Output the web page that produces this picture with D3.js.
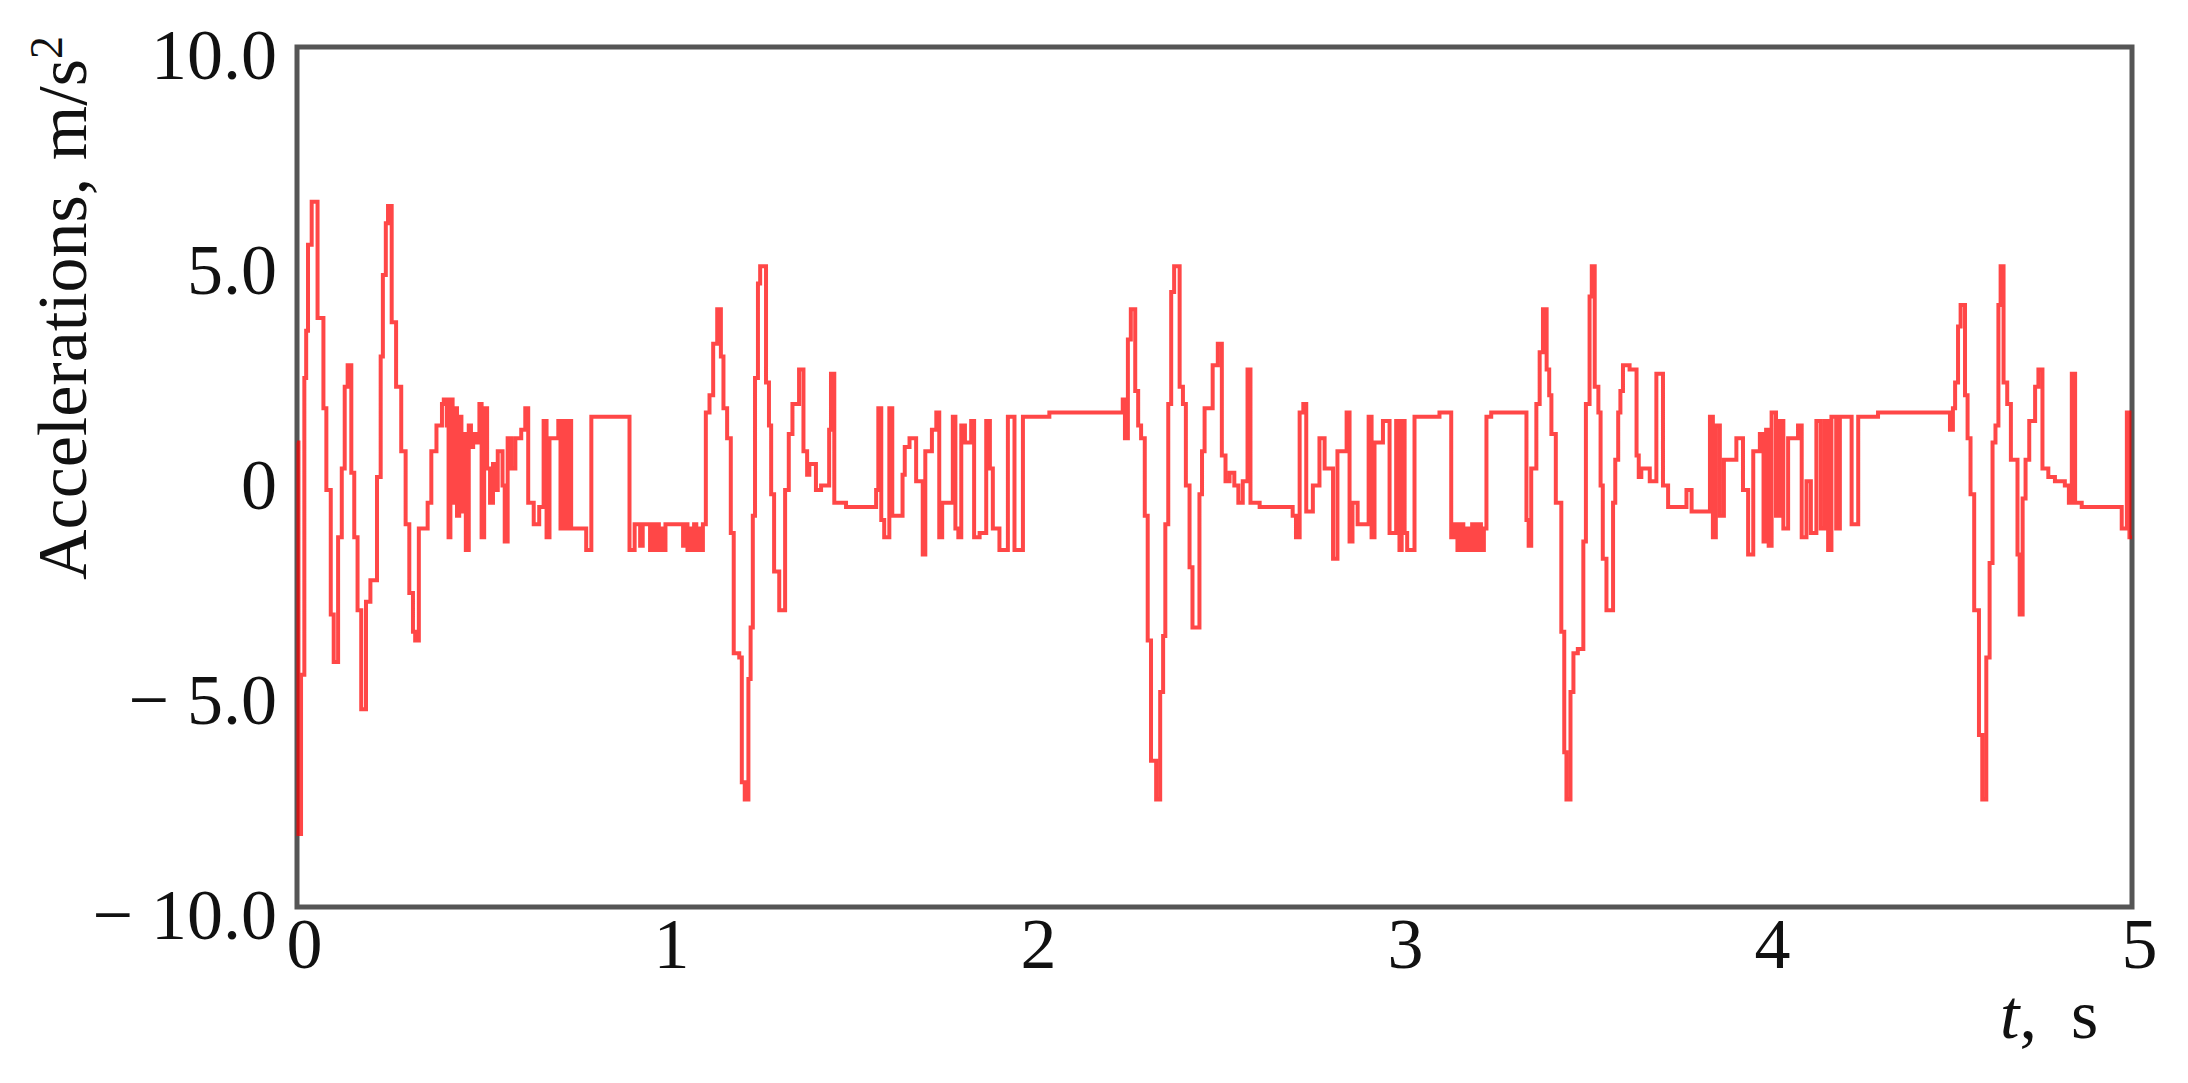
<!DOCTYPE html>
<html><head><meta charset="utf-8">
<script src="https://cdn.jsdelivr.net/npm/d3@7/dist/d3.min.js"></script>
<style>html,body{margin:0;padding:0;background:#fff;}svg{display:block;}</style>
</head><body>
<svg id="chart" width="2188" height="1083"></svg>
<script>
// ---- data ----
const timeS = [
0.000,0.004,0.011,0.020,0.025,0.030,0.040,0.056,0.072,0.080,0.092,0.100,0.112,0.122,0.130,0.138,0.148,0.156,0.165,0.175,
0.188,0.200,0.218,0.228,0.234,0.242,0.248,0.258,0.270,0.284,0.296,0.306,0.316,0.322,0.332,0.356,0.366,0.380,0.395,0.400,
0.408,0.413,0.418,0.424,0.430,0.436,0.442,0.448,0.454,0.460,0.468,0.474,0.480,0.490,0.497,0.503,0.510,0.518,0.526,0.534,
0.540,0.547,0.560,0.566,0.574,0.584,0.595,0.611,0.622,0.630,0.645,0.660,0.672,0.680,0.688,0.712,0.718,0.726,0.733,0.740,
0.747,0.788,0.802,0.906,0.920,0.935,0.942,0.962,0.968,0.974,0.980,0.986,0.992,0.998,1.004,1.052,1.058,1.064,1.070,1.076,
1.082,1.088,1.094,1.100,1.106,1.114,1.124,1.134,1.145,1.155,1.162,1.172,1.182,1.190,1.205,1.212,1.220,1.230,1.236,1.242,
1.248,1.256,1.262,1.278,1.286,1.292,1.300,1.314,1.330,1.340,1.350,1.368,1.380,1.390,1.396,1.414,1.428,1.450,1.455,1.464,
1.496,1.578,1.584,1.592,1.600,1.614,1.622,1.650,1.656,1.669,1.687,1.705,1.712,1.730,1.742,1.750,1.758,1.787,1.794,1.802,
1.810,1.820,1.837,1.845,1.860,1.878,1.888,1.896,1.914,1.937,1.955,1.978,2.050,2.250,2.256,2.264,2.272,2.284,2.292,2.300,
2.310,2.318,2.327,2.341,2.352,2.360,2.366,2.374,2.382,2.390,2.405,2.414,2.422,2.432,2.440,2.459,2.466,2.473,2.495,2.509,
2.520,2.530,2.541,2.554,2.565,2.577,2.590,2.598,2.623,2.713,2.722,2.732,2.742,2.750,2.768,2.786,2.800,2.823,2.835,2.860,
2.868,2.876,2.890,2.920,2.928,2.936,2.959,2.977,2.995,3.004,3.010,3.018,3.025,3.045,3.113,3.145,3.154,3.162,3.170,3.178,
3.186,3.194,3.202,3.210,3.218,3.226,3.234,3.241,3.254,3.350,3.356,3.363,3.377,3.386,3.395,3.405,3.412,3.418,3.430,3.445,
3.453,3.459,3.470,3.478,3.490,3.505,3.512,3.522,3.528,3.536,3.546,3.552,3.558,3.568,3.586,3.592,3.600,3.606,3.613,3.631,
3.650,3.656,3.663,3.686,3.704,3.722,3.736,3.786,3.800,3.850,3.858,3.866,3.877,3.888,3.922,3.940,3.954,3.968,3.986,3.996,
4.003,4.010,4.018,4.030,4.040,4.050,4.063,4.090,4.100,4.113,4.125,4.140,4.152,4.163,4.172,4.181,4.194,4.204,4.236,4.254,
4.308,4.504,4.512,4.518,4.526,4.533,4.545,4.552,4.560,4.570,4.583,4.592,4.603,4.612,4.620,4.628,4.636,4.642,4.650,4.660,
4.670,4.688,4.694,4.702,4.710,4.720,4.736,4.745,4.756,4.772,4.790,4.817,4.828,4.836,4.845,4.863,4.972,4.986,4.993,5.000
];
const accelMS2 = [
0.8,-8.3,-4.6,2.3,3.4,5.4,6.4,3.7,1.6,-0.3,-3.2,-4.3,-1.4,0.2,2.1,2.6,0.1,-1.4,-3.1,-5.4,
-2.9,-2.4,0.0,2.8,4.7,5.9,6.3,3.6,2.1,0.6,-1.1,-2.7,-3.6,-3.8,-1.2,-0.6,0.6,1.2,1.7,1.8,
1.2,-1.4,1.8,-0.6,1.6,-0.9,1.4,-0.8,1.0,-1.7,1.2,0.7,1.0,0.8,1.7,-1.4,1.6,0.2,-0.6,0.3,
-0.3,0.6,-0.2,-1.5,0.9,0.2,0.9,1.1,1.6,-0.6,-1.1,-0.7,1.3,-1.4,0.9,1.3,-1.2,1.3,-1.2,1.3,
-1.2,-1.7,1.4,-1.7,-1.1,-1.6,-1.1,-1.7,-1.1,-1.7,-1.1,-1.7,-1.2,-1.7,-1.1,-1.6,-1.1,-1.7,-1.2,-1.7,
-1.1,-1.7,-1.2,-1.7,-1.1,1.5,1.9,3.1,3.9,2.8,1.6,0.9,-1.3,-4.1,-4.2,-7.1,-7.5,-4.7,-3.5,-0.9,
2.3,4.5,4.9,2.2,1.2,-0.4,-2.2,-3.1,-0.3,1.0,1.7,2.5,0.6,0.05,0.3,-0.3,-0.2,1.1,2.4,-0.6,
-0.7,-0.3,1.6,-1.0,-1.4,1.6,-0.9,0.05,0.7,0.9,-0.1,-1.8,0.6,1.1,1.5,-1.4,-0.6,1.4,-1.2,-1.4,
1.2,0.8,1.3,-1.4,-1.3,1.3,0.2,-1.2,-1.7,1.4,-1.7,1.4,1.5,1.8,0.9,3.2,3.9,2.0,1.2,0.9,
-0.9,-3.8,-6.6,-7.5,-5.0,-3.7,-1.1,1.7,4.3,4.9,2.1,1.7,-0.2,-2.1,-3.5,-0.4,0.6,1.6,2.6,3.1,
0.5,-0.1,0.1,-0.2,-0.6,-0.1,2.5,-0.6,-0.7,-0.9,-1.4,1.5,1.7,-0.8,-0.2,0.9,0.2,-1.9,0.6,1.5,
-1.5,-0.6,-1.1,1.4,-1.4,0.8,1.3,-1.3,1.3,-1.7,1.3,-1.3,-1.7,1.4,1.5,-1.4,-1.1,-1.7,-1.1,-1.7,
-1.2,-1.7,-1.1,-1.7,-1.1,-1.7,-1.2,1.4,1.5,-1.0,-1.6,0.2,1.7,2.9,3.9,2.5,1.9,1.0,-0.6,-3.6,
-6.4,-7.5,-5.0,-4.1,-4.0,-1.5,1.7,4.2,4.9,2.1,1.5,-0.2,-1.9,-3.1,-0.6,0.4,1.5,2.0,2.6,2.5,
0.5,0.0,0.2,-0.1,2.4,-0.2,-0.7,-0.3,-0.8,1.4,-1.4,1.2,-0.9,0.4,0.9,-0.3,-1.8,0.6,1.0,-1.5,
1.1,-1.6,1.5,-0.9,1.3,-1.2,0.9,1.2,-1.4,-0.1,-1.3,1.3,-1.2,1.3,-1.7,1.4,-1.2,1.4,-1.1,1.4,
1.5,1.1,1.6,2.2,3.5,4.0,1.9,0.9,-0.4,-3.1,-6.0,-7.5,-4.2,-2.0,0.8,1.2,4.0,4.9,2.2,1.7,
0.4,-1.8,-3.2,-0.5,0.4,1.3,2.1,2.5,0.2,0.0,-0.1,-0.2,-0.6,2.4,-0.6,-0.7,-1.2,1.5,-1.4,-1.4
];
const xTickValues = [0, 1, 2, 3, 4, 5];
const xTickLabels = ["0", "1", "2", "3", "4", "5"];
const yTickValues = [-10, -5, 0, 5, 10];
const yTickLabels = ["\u2212 10.0", "\u2212 5.0", "0", "5.0", "10.0"];
const xDomain = [0, 5];
const yDomain = [-10, 10];
const yTitle = "Accelerations, m/s";
const yTitleSup = "2";
const xTitleVar = "t";
const xTitleUnit = "s";

// ---- layout ----
const L = 297, R = 2132, T = 47, B = 907;
const FONT = "'Liberation Serif','Times New Roman',serif";
const svg = d3.select("#chart");
const x = d3.scaleLinear().domain(xDomain).range([L, R]);
const y = d3.scaleLinear().domain(yDomain).range([B, T]);

// frame
svg.append("rect").attr("x", L).attr("y", T).attr("width", R - L).attr("height", B - T)
  .attr("fill", "none").attr("stroke", "#555").attr("stroke-width", 5);

// signal
const pts = timeS.map((t, i) => [t, accelMS2[i]]);
const line = d3.line().x(d => x(d[0])).y(d => y(d[1])).curve(d3.curveStepAfter);
svg.append("path").datum(pts).attr("d", line)
  .attr("fill", "none").attr("stroke", "#ff0000").attr("stroke-opacity", 0.72)
  .attr("stroke-width", 4).attr("stroke-linejoin", "miter");

// axes
const gx = svg.append("g").attr("transform", `translate(0,${B})`)
  .call(d3.axisBottom(x).tickValues(xTickValues).tickFormat((d, i) => xTickLabels[i]).tickSize(0));
gx.select(".domain").remove();
gx.selectAll("text").attr("y", 61).attr("dy", null).attr("x", 7)
  .attr("font-family", FONT).attr("font-size", 72).attr("fill", "#111");

const gy = svg.append("g").attr("transform", `translate(${L},0)`)
  .call(d3.axisLeft(y).tickValues(yTickValues).tickFormat((d, i) => yTickLabels[i]).tickSize(0));
gy.select(".domain").remove();
gy.selectAll("text").attr("x", -20).attr("dy", null).attr("y", 31)
  .attr("font-family", FONT).attr("font-size", 72).attr("fill", "#111").attr("text-anchor", "end");

// y title
const yt = svg.append("text").attr("transform", "translate(86,36) rotate(-90)")
  .attr("text-anchor", "end").attr("font-family", FONT).attr("font-size", 70).attr("fill", "#111");
yt.append("tspan").text(yTitle);
yt.append("tspan").attr("dy", -24).attr("font-size", 46).text(yTitleSup);

// x title
const xt = svg.append("text").attr("x", 2000).attr("y", 1038)
  .attr("font-family", FONT).attr("font-size", 70).attr("fill", "#111");
xt.append("tspan").attr("font-style", "italic").text(xTitleVar);
xt.append("tspan").text(",");
xt.append("tspan").attr("x", 2071).text(xTitleUnit);
</script>
</body></html>
